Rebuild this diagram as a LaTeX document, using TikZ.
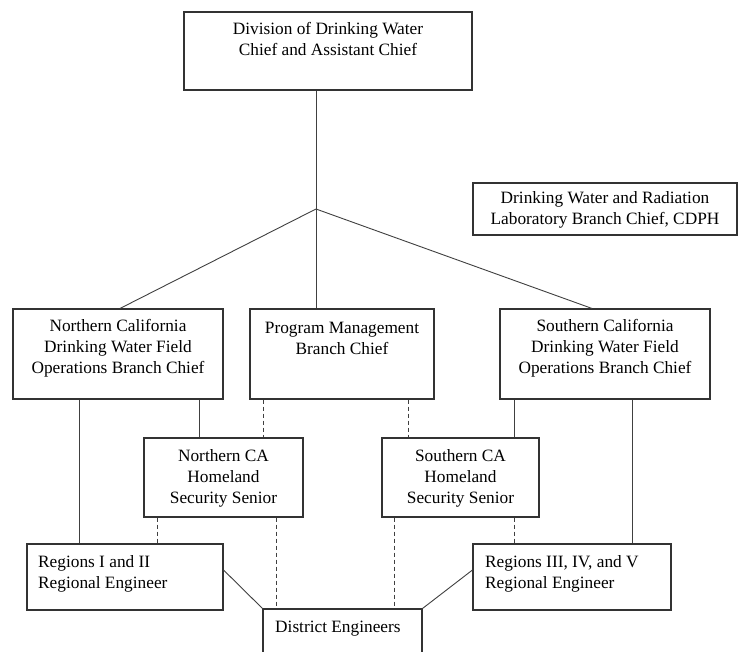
\documentclass[tikz,border=0pt]{standalone}
\usepackage{fontspec}
\setmainfont{Liberation Serif}
\usetikzlibrary{calc}
\begin{document}
\begin{tikzpicture}[x=1pt,y=-1pt,
  box/.style={draw=black!80, line width=1.1pt, rectangle, inner sep=0pt},
  txt/.style={inner sep=0pt, align=center, font=\fontsize{17.3}{21}\selectfont, text=black},
  txtl/.style={inner sep=0pt, align=left, font=\fontsize{17.3}{21}\selectfont, text=black},
  conn/.style={draw=black!75, line width=0.9pt},
  dconn/.style={draw=black!75, line width=0.9pt, dash pattern=on 4pt off 3pt}]
\useasboundingbox[fill=white] (0,0) rectangle (738,651);
% boxes
\node[box, minimum width=288pt, minimum height=78pt] (topb) at (328,51) {};
\node[box, minimum width=264pt, minimum height=52pt] (lab) at (605,209) {};
\node[box, minimum width=210pt, minimum height=90pt] (ncb) at (118,354) {};
\node[box, minimum width=184pt, minimum height=90pt] (pmb) at (342,354) {};
\node[box, minimum width=210pt, minimum height=90pt] (scb) at (605,354) {};
\node[box, minimum width=159pt, minimum height=79pt] (nhs) at (223.5,477.5) {};
\node[box, minimum width=157pt, minimum height=79pt] (shs) at (460.5,477.5) {};
\node[box, minimum width=196pt, minimum height=66pt] (r12) at (125,577) {};
\node[box, minimum width=198pt, minimum height=66pt] (r35) at (572,577) {};
\node[box, minimum width=159pt, minimum height=80pt] (de) at (342.5,649) {};
% texts
\node[txt] (topt) at (328,39) {Division of Drinking Water\\Chief and Assistant Chief};
\node[txt] (labt) at (605,210) {Drinking Water and Radiation\\Laboratory Branch Chief, CDPH};
\node[txt] (ncbt) at (118,348.5) {Northern California\\Drinking Water Field\\Operations Branch Chief};
\node[txt] (pmbt) at (342,338) {Program Management\\Branch Chief};
\node[txt] (scbt) at (605,348.5) {Southern California\\Drinking Water Field\\Operations Branch Chief};
\node[txt] (nhst) at (223.5,478) {Northern CA\\Homeland\\Security Senior};
\node[txt] (shst) at (460.5,478) {Southern CA\\Homeland\\Security Senior};
\node[txtl, anchor=west] (r12t) at (38,573.5) {Regions I and II\\Regional Engineer};
\node[txtl, anchor=west] (r35t) at (485,573.5) {Regions III, IV, and V\\Regional Engineer};
\node[txtl, anchor=west] (det) at (275,629) {District Engineers};
% connectors
\coordinate (J) at (316,209);
\draw[conn] (topb.south -| J) -- (J);
\draw[conn] (J) -- (120,309 |- ncb.north);
\draw[conn] (J) -- (J |- pmb.north);
\draw[conn] (J) -- (592,309 |- scb.north);
\draw[conn] (79,399 |- ncb.south) -- (79,544 |- r12.north);
\draw[conn] (199,399 |- ncb.south) -- (199,438 |- nhs.north);
\draw[dconn] (263,399 |- pmb.south) -- (263,438 |- nhs.north);
\draw[dconn] (408,399 |- pmb.south) -- (408,438 |- shs.north);
\draw[conn] (514,399 |- scb.south) -- (514,438 |- shs.north);
\draw[conn] (632,399 |- scb.south) -- (632,544 |- r35.north);
\draw[dconn] (157,517 |- nhs.south) -- (157,544 |- r12.north);
\draw[dconn] (276,517 |- nhs.south) -- (276,609 |- de.north);
\draw[dconn] (394,517 |- shs.south) -- (394,609 |- de.north);
\draw[dconn] (514,517 |- shs.south) -- (514,544 |- r35.north);
\draw[conn] (r12.east |- 0,570) -- (de.north west);
\draw[conn] (r35.west |- 0,570) -- (de.north east);
\end{tikzpicture}
\end{document}
